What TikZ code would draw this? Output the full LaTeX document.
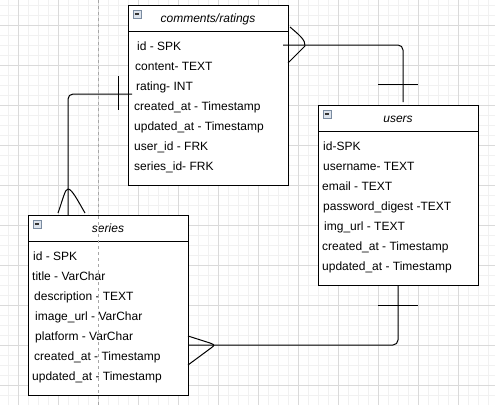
\documentclass[tikz,border=0pt]{standalone}
\usepackage{fontspec}
\setmainfont{Liberation Sans}
\usetikzlibrary{calc}

\definecolor{gridminor}{HTML}{F1F1F1}
\definecolor{gridmajor}{HTML}{DADADA}
\definecolor{pageline}{HTML}{A6A6A6}
\definecolor{iconfill}{HTML}{DCE3EC}
\definecolor{iconedge}{HTML}{7A8BA0}
\definecolor{iconbar}{HTML}{333333}

\tikzset{
  entity/.style={draw, line width=1pt, fill=white, minimum width=160pt,
    minimum height=180pt, inner sep=0pt, outer sep=0pt, anchor=north west},
  titlebar/.style={draw, line width=1pt, minimum width=160pt,
    minimum height=26pt, inner sep=0pt, outer sep=0pt, anchor=north west},
  titletext/.style={anchor=base, inner sep=0pt, font=\fontsize{12}{14}\selectfont\itshape},
  field/.style={anchor=base west, inner sep=0pt, font=\fontsize{12}{14}\selectfont},
  collapse/.style={draw=iconedge, fill=iconfill, line width=0.6pt,
    minimum size=8pt, inner sep=0pt, outer sep=0pt, anchor=north west,
    path picture={\draw[iconbar, line width=1.1pt]
      ([xshift=1.8pt]path picture bounding box.west) --
      ([xshift=-1.8pt]path picture bounding box.east);}},
  link/.style={line width=1pt, rounded corners=5pt},
  onebar/.style={line width=1pt},
  crowfoot/.style={line width=1pt, line join=round},
}

\begin{document}
\begin{tikzpicture}[x=1pt, y=-1pt]
  \useasboundingbox (0,0) rectangle (495,405);

  % background grid
  \foreach \gx in {8,18,...,488} \draw[gridminor, line width=0.8pt] (\gx,0) -- (\gx,405);
  \foreach \gy in {5,15,...,395} \draw[gridminor, line width=0.8pt] (0,\gy) -- (495,\gy);
  \foreach \gx in {18,58,...,458} \draw[gridmajor, line width=0.8pt] (\gx,0) -- (\gx,405);
  \foreach \gy in {25,65,...,385} \draw[gridmajor, line width=0.8pt] (0,\gy) -- (495,\gy);

  % comments/ratings table
  \node[entity] (cr) at (128,5) {};
  \node[titlebar] (crh) at (cr.north west) {};
  \node[titletext] (crt) at ($(crh.north)+(0,17)$) {comments/ratings};
  \node[collapse] (crx) at ($(cr.north west)+(5,5)$) {};
  \foreach \t/\dx [count=\i] in {id - SPK/9, content- TEXT/7, rating- INT/8,
      created\_at - Timestamp/6, updated\_at - Timestamp/6,
      user\_id - FRK/6, series\_id- FRK/6}
    \node[field] (cr\i) at ($(cr.north west)+(\dx,25+20*\i)$) {\t};

  % users table
  \node[entity] (us) at (318,105) {};
  \node[titlebar] (ush) at (us.north west) {};
  \node[titletext] (ust) at ($(ush.north)+(0,17)$) {users};
  \node[collapse] (usx) at ($(us.north west)+(5,5)$) {};
  \foreach \t/\dx [count=\i] in {id-SPK/5, username- TEXT/5, email - TEXT/4,
      password\_digest -TEXT/5, img\_url - TEXT/6,
      created\_at - Timestamp/4, updated\_at - Timestamp/4}
    \node[field] (us\i) at ($(us.north west)+(\dx,25+20*\i)$) {\t};

  % series table
  \node[entity] (se) at (28,215) {};
  \node[titlebar] (seh) at (se.north west) {};
  \node[titletext] (set) at ($(seh.north)+(0,17)$) {series};
  \node[collapse] (sex) at ($(se.north west)+(5,5)$) {};
  \foreach \t/\dx [count=\i] in {id - SPK/5, title - VarChar/4,
      description - TEXT/6, image\_url - VarChar/7, platform - VarChar/7,
      created\_at - Timestamp/6, updated\_at - Timestamp/4}
    \node[field] (se\i) at ($(se.north west)+(\dx,25+20*\i)$) {\t};

  % comments/ratings (many) -- users (one)
  \draw[link] ($(cr.north east)+(-5,40)$) -| ($(us.north)+(5,-3)$);
  \draw[crowfoot] ($(cr.north east)+(2,22)$)
      .. controls ($(cr.north east)+(10,29)$) and ($(cr.north east)+(18,35)$) ..
      ($(cr.north east)+(17,41)$) -- ($(cr.north east)+(0,58)$);
  \draw[onebar] ($(us.north)+(-20,-21)$) -- ($(us.north)+(20,-21)$);

  % comments/ratings (one) -- series (many)
  \draw[link] ($(cr.north west)+(4,89)$) -| ($(se.north west)+(40,0)$);
  \draw[onebar] ($(cr.north west)+(-10,71)$) -- ($(cr.north west)+(-10,105)$);
  \draw[crowfoot] ($(se.north west)+(30,-2)$)
      .. controls ($(se.north west)+(35,-16)$) and ($(se.north west)+(37,-26)$) ..
      ($(se.north west)+(40,-26)$)
      .. controls ($(se.north west)+(44,-26)$) and ($(se.north west)+(50,-14)$) ..
      ($(se.north west)+(57,-2)$);

  % series (many) -- users (one)
  \draw[link] ($(se.north east)+(0,130)$) -| (us.south);
  \draw[crowfoot] ($(se.north east)+(0,121)$) -- ($(se.north east)+(22,128)$)
      .. controls ($(se.north east)+(27,130)$) .. ($(se.north east)+(23,133)$)
      -- ($(se.north east)+(0,150)$);
  \draw[onebar] ($(us.south)+(-20,20)$) -- ($(us.south)+(20,20)$);

  % page break guide
  \draw[pageline, line width=0.8pt, dash pattern=on 3pt off 3pt] (98,0) -- (98,405);
\end{tikzpicture}
\end{document}
